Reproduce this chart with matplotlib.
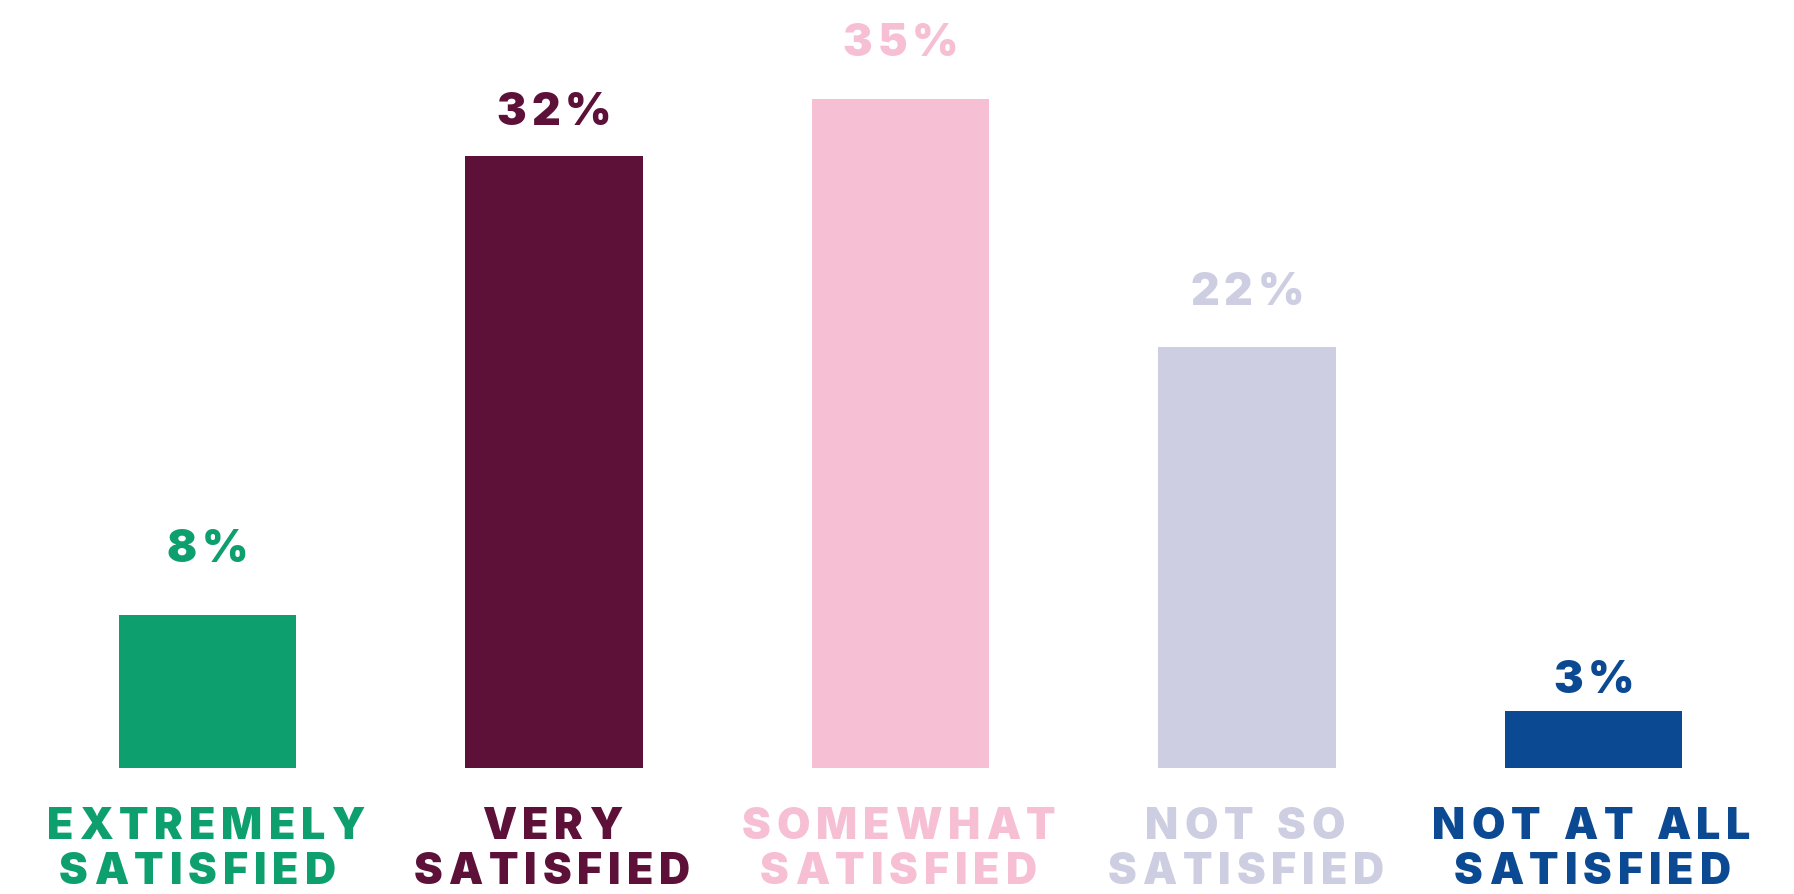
import matplotlib
matplotlib.use("Agg")
import matplotlib.pyplot as plt
from matplotlib.font_manager import FontProperties

# survey answers and their shares (%)
categories = ["EXTREMELY\nSATISFIED", "VERY\nSATISFIED", "SOMEWHAT\nSATISFIED",
              "NOT SO\nSATISFIED", "NOT AT ALL\nSATISFIED"]
values = [8, 32, 35, 22, 3]
value_labels = ["8%", "32%", "35%", "22%", "3%"]
colors = ["#0DA06E", "#5D1038", "#F6BFD3", "#CDCEE1", "#0B4A92"]

# layout (pixels)
label_gap = [53, 31, 43, 42, 18]      # bar top -> value label baseline
line_shift = [-10, -2, -2, -1, -1]    # nudge of the second name line
cat_tracking = 6                      # letter spacing of the category names
val_tracking = 5

W, H = 1794, 894
fig = plt.figure(figsize=(W / 100, H / 100), dpi=100)
fig.patch.set_facecolor("white")

ax = fig.add_axes([34.25 / W, 126 / H, (1766.75 - 34.25) / W, 765 / H])
ax.bar(range(len(values)), values, width=0.511, color=colors)
ax.set_xlim(-0.5, len(values) - 0.5)
ax.set_ylim(0, 40)
ax.axis("off")

fp_val = FontProperties(family=["Inter", "DejaVu Sans"], weight="black", size=32)
fp_cat = FontProperties(family=["Inter", "DejaVu Sans"], weight="black", size=31)

renderer = fig.canvas.get_renderer()


def char_widths(s, fp):
    out = []
    for ch in s:
        if ch == " ":
            out.append(fp.get_size_in_points() * 100 / 72 * 0.25)
        else:
            w, _, _ = renderer.get_text_width_height_descent(ch, fp, ismath=False)
            out.append(w)
    return out


def tracked(cx, baseline, s, fp, track, color):
    # draw s centred on cx (px) with extra space between letters
    ws = char_widths(s, fp)
    total = sum(ws) + track * (len(s) - 1)
    x = cx - total / 2
    for ch, w in zip(s, ws):
        if ch != " ":
            fig.text(x / W, baseline / H, ch, fontproperties=fp, color=color,
                     ha="left", va="baseline")
        x += w + track


for i, (v, lab, cat, c) in enumerate(zip(values, value_labels, categories, colors)):
    cx, top = ax.transData.transform((i, v))
    tracked(cx, top + label_gap[i], lab, fp_val, val_tracking, c)
    line1, line2 = cat.split("\n")
    tracked(cx - 2, H - 839, line1, fp_cat, cat_tracking, c)
    tracked(cx + line_shift[i], H - 884, line2, fp_cat, cat_tracking, c)

fig.savefig("out.png", dpi=100, facecolor="white")
